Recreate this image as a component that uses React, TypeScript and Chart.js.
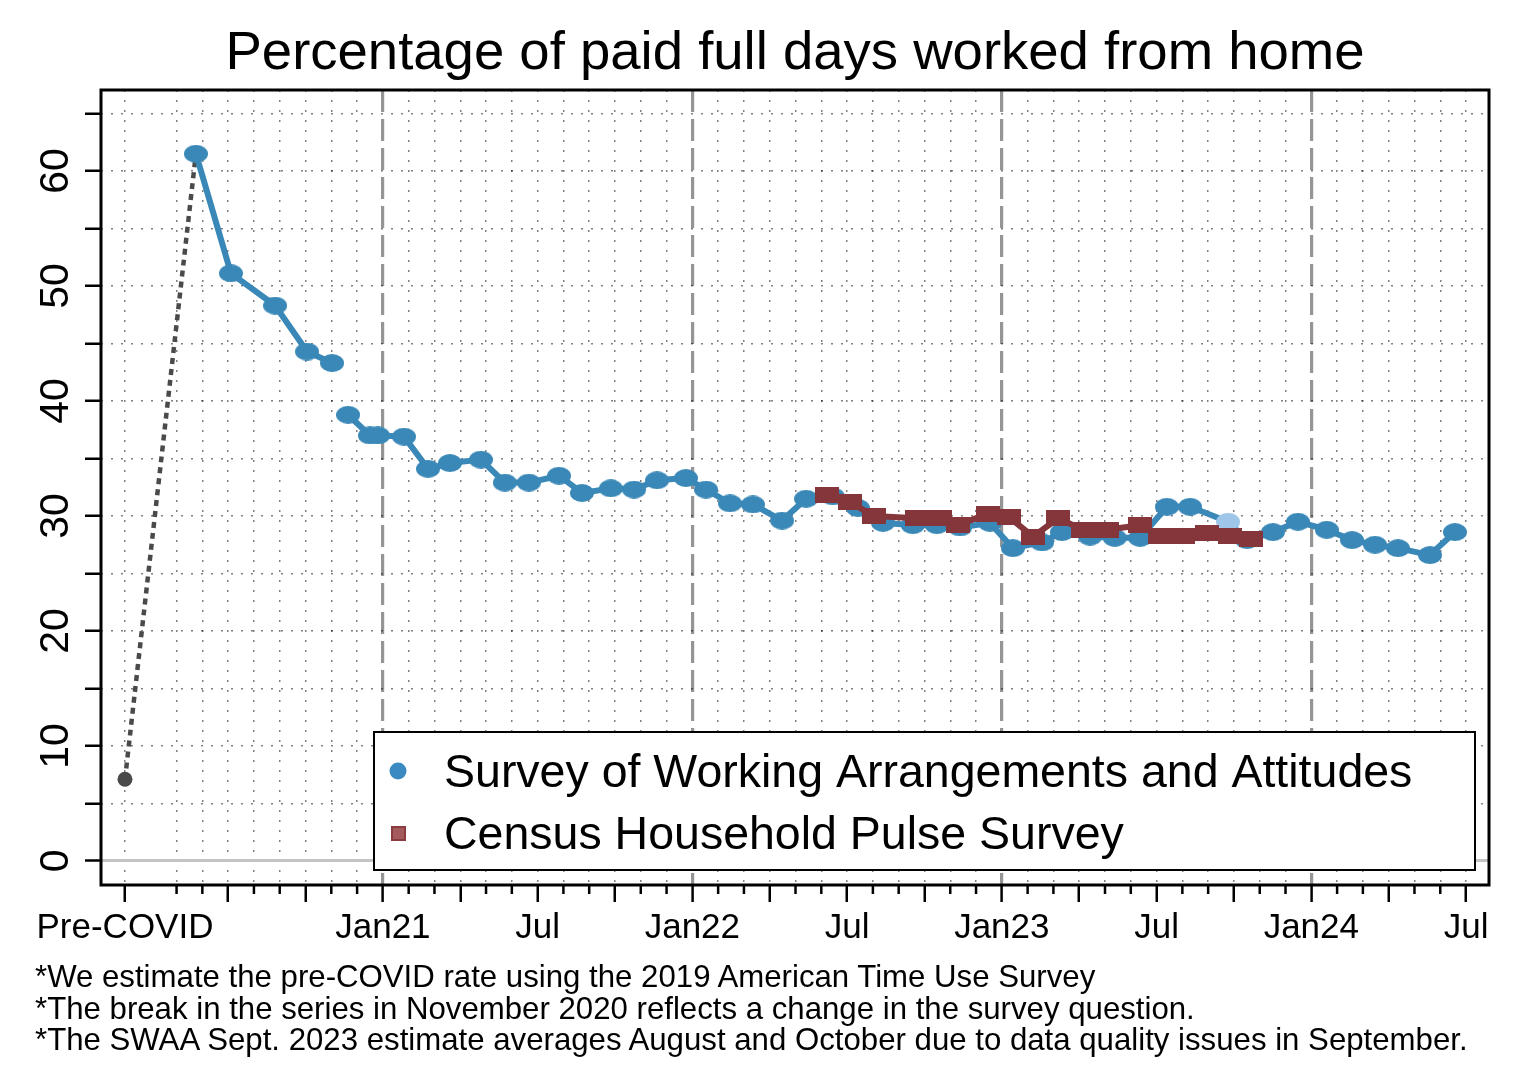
import React, { useEffect, useRef } from 'react';
import { Chart, registerables } from 'chart.js';

Chart.register(...registerables);

const FONT = "'Liberation Sans', Arial, Helvetica, sans-serif";

const titleText = 'Percentage of paid full days worked from home';
const footnotes = [
  '*We estimate the pre-COVID rate using the 2019 American Time Use Survey',
  '*The break in the series in November 2020 reflects a change in the survey question.',
  '*The SWAA Sept. 2023 estimate averages August and October due to data quality issues in September.',
];

// x values are months since March 2020 (Pre-COVID placed at 0)
const preMonths = [0, 2.75];
const preValues = [7.1, 61.5];

const swaaMonths = [
  2.75, 4.11, 5.82, 7.06, 8.03, 8.35, 8.65, 9.5, 9.81, 10.82, 11.75, 12.6, 13.8, 14.73, 15.66,
  16.83, 17.72, 18.84, 19.74, 20.63, 21.75, 22.53, 23.46, 24.35, 25.48, 26.41, 27.45, 28.42,
  29.39, 30.55, 31.48, 32.38, 33.54, 34.43, 35.56, 36.33, 37.42, 38.38, 39.36, 40.4, 41.3,
  42.77, 43.51, 44.51, 45.48, 46.6, 47.58, 48.47, 49.36, 50.6, 51.57,
];
const swaaValues = [
  61.5, 51.1, 48.3, 44.3, 43.3, null, 38.8, 37.0, 37.0, 36.9, 34.1, 34.6, 34.9, 32.9, 32.9,
  33.5, 32.0, 32.4, 32.3, 33.1, 33.3, 32.3, 31.1, 31.0, 29.6, 31.5, 31.7, 30.7,
  29.4, 29.2, 29.2, 29.0, 29.4, 27.2, 27.7, 28.6, 28.2, 28.1, 28.1, 30.8, 30.8,
  29.5, 27.9, 28.6, 29.5, 28.8, 27.9, 27.5, 27.2, 26.6, 28.6,
];
const swaaHighlightIndex = 41; // Sept. 2023 averaged estimate

const censusMonths = [
  27.22, 28.11, 29.04, 30.71, 31.6, 32.3, 33.46, 34.28, 35.21, 36.18, 37.15, 38.08, 39.36,
  40.13, 41.02, 41.95, 42.85, 43.66,
];
const censusValues = [
  31.8, 31.2, 30.0, 29.8, 29.8, 29.2, 30.2, 29.9, 28.2, 29.8, 28.8, 28.8, 29.2,
  28.3, 28.3, 28.5, 28.3, 28.0,
];

const xTickMonths = [0, 2, 3, 4, 5, 6, 7, 8, 9, 10, 11, 12, 13, 14, 15, 16, 17, 18, 19, 20, 21, 22, 23, 24, 25, 26, 27, 28, 29, 30, 31, 32, 33, 34, 35, 36, 37, 38, 39, 40, 41, 42, 43, 44, 45, 46, 47, 48, 49, 50, 51, 52];
const xLongTickMonths = [0, 4, 7, 10, 13, 16, 19, 22, 25, 28, 31, 34, 37, 40, 43, 46, 49, 52];
const xLabelMonths = [0, 10, 16, 22, 28, 34, 40, 46, 52];
const xLabelTexts = ['Pre-COVID', 'Jan21', 'Jul', 'Jan22', 'Jul', 'Jan23', 'Jul', 'Jan24', 'Jul'];
const yearStartMonths = [10, 22, 34, 46];
const yTickValues = [0, 5, 10, 15, 20, 25, 30, 35, 40, 45, 50, 55, 60, 65];
const yLabelValues = [0, 10, 20, 30, 40, 50, 60];
const seriesNames = ['Survey of Working Arrangements and Attitudes', 'Census Household Pulse Survey'];

const BLUE = '#3a88b8';
const LIGHT_BLUE = '#9ec6e8';
const RED = '#84363a';
const GRAY = '#4a4a4a';
const DOT = 'rgba(0,0,0,0.5)';

function makeEllipse(color: string, w: number, h: number) {
  const c = document.createElement('canvas');
  c.width = w;
  c.height = h;
  const g = c.getContext('2d')!;
  g.fillStyle = color;
  g.beginPath();
  g.ellipse(w / 2, h / 2, w / 2, h / 2, 0, 0, Math.PI * 2);
  g.fill();
  return c;
}
function makeRect(color: string, w: number, h: number) {
  const c = document.createElement('canvas');
  c.width = w;
  c.height = h;
  const g = c.getContext('2d')!;
  g.fillStyle = color;
  g.fillRect(0, 0, w, h);
  return c;
}

export default function App() {
  const ref = useRef<HTMLCanvasElement | null>(null);

  useEffect(() => {
    if (!ref.current) return;
    const blueImg = makeEllipse(BLUE, 24, 18);
    const lightImg = makeEllipse(LIGHT_BLUE, 24, 18);
    const redImg = makeRect(RED, 24, 16);

    const frame = {
      id: 'frame',
      afterDatasetsDraw(chart: any) {
        const ctx = chart.ctx;
        // legend
        ctx.save();
        ctx.fillStyle = '#fff';
        ctx.fillRect(374, 732, 1101, 138);
        ctx.strokeStyle = '#000';
        ctx.lineWidth = 2;
        ctx.strokeRect(374, 732, 1101, 138);
        ctx.fillStyle = '#3b8bc2';
        ctx.beginPath();
        ctx.arc(398, 771, 8.5, 0, Math.PI * 2);
        ctx.fill();
        ctx.fillStyle = '#a35b5d';
        ctx.fillRect(392, 827, 13, 13);
        ctx.strokeStyle = '#8a3c3f';
        ctx.lineWidth = 2;
        ctx.strokeRect(392, 827, 13, 13);
        ctx.fillStyle = '#000';
        ctx.font = `46.5px ${FONT}`;
        ctx.textBaseline = 'middle';
        ctx.textAlign = 'left';
        ctx.fillText(seriesNames[0], 444, 774);
        ctx.fillText(seriesNames[1], 444, 836);
        ctx.restore();
      },
      afterDraw(chart: any) {
        const ctx = chart.ctx;
        const a = chart.chartArea;
        const xs = chart.scales.x;
        ctx.save();
        ctx.strokeStyle = '#000';
        ctx.lineWidth = 2.5;
        for (const m of xTickMonths) {
          if (xLongTickMonths.includes(m)) continue;
          const px = xs.getPixelForValue(m);
          ctx.beginPath();
          ctx.moveTo(px, a.bottom);
          ctx.lineTo(px, a.bottom + 9);
          ctx.stroke();
        }
        ctx.lineWidth = 3;
        ctx.strokeRect(a.left, a.top, a.right - a.left, a.bottom - a.top);
        ctx.restore();
      },
    };

    const chart = new Chart(ref.current, {
      type: 'line',
      data: {
        datasets: [
          {
            label: seriesNames[1],
            data: censusMonths.map((m, i) => ({ x: m, y: censusValues[i] })),
            borderColor: RED,
            borderWidth: 6,
            pointStyle: redImg as any,
            pointRadius: 8,
            tension: 0,
            order: 1,
          },
          {
            label: seriesNames[0],
            data: swaaMonths.map((m, i) => ({ x: m, y: swaaValues[i] })),
            borderColor: BLUE,
            borderWidth: 6,
            borderJoinStyle: 'round',
            pointStyle: swaaMonths.map((_, i) => (i === swaaHighlightIndex ? lightImg : blueImg)) as any,
            pointRadius: 8,
            spanGaps: false,
            tension: 0,
            order: 2,
          },
          {
            label: 'Pre-COVID',
            data: preMonths.map((m, i) => ({ x: m, y: preValues[i] })),
            borderColor: GRAY,
            borderWidth: 4.5,
            borderDash: [6, 5],
            pointRadius: [7.5, 0],
            pointBackgroundColor: GRAY,
            pointBorderWidth: 0,
            tension: 0,
            order: 3,
          },
        ],
      },
      options: {
        responsive: false,
        animation: false,
        layout: { padding: { top: 0, left: 0, right: 25, bottom: 95 } },
        plugins: {
          legend: { display: false },
          tooltip: { enabled: false },
          title: {
            display: true,
            text: titleText,
            fullSize: false,
            color: '#000',
            font: { family: FONT, size: 54.5, weight: 'normal' },
            padding: { top: 21, bottom: 3.6 },
          },
        },
        scales: {
          x: {
            type: 'linear',
            min: -0.93,
            max: 52.89,
            afterBuildTicks: (s: any) => {
              s.ticks = xTickMonths.map((v) => ({ value: v }));
            },
            afterFit: (s: any) => {
              s.height = 100;
              s.paddingLeft = 0;
              s.paddingRight = 0;
            },
            ticks: {
              autoSkip: false,
              maxRotation: 0,
              minRotation: 0,
              padding: 5,
              color: '#000',
              font: { family: FONT, size: 35 },
              callback: (v: any) => {
                const k = xLabelMonths.indexOf(Number(v));
                return k >= 0 ? xLabelTexts[k] : '';
              },
            },
            border: {
              display: false,
              dash: (c: any) => (yearStartMonths.includes(c.tick?.value) ? [22, 7] : [2, 8]),
            },
            grid: {
              color: (c: any) => (yearStartMonths.includes(c.tick?.value) ? '#959595' : DOT),
              lineWidth: (c: any) => (yearStartMonths.includes(c.tick?.value) ? 3.2 : 1.5),
              tickLength: 17,
              tickWidth: 2.5,
              tickColor: (c: any) => (xLongTickMonths.includes(c.tick?.value) ? '#000' : 'rgba(0,0,0,0)'),
              tickBorderDash: [],
            },
          },
          y: {
            type: 'linear',
            min: -2.09,
            max: 67.04,
            afterBuildTicks: (s: any) => {
              s.ticks = yTickValues.map((v) => ({ value: v }));
            },
            afterFit: (s: any) => {
              s.width = 101;
              s.paddingTop = 0;
              s.paddingBottom = 0;
            },
            ticks: {
              minRotation: 90,
              maxRotation: 90,
              crossAlign: 'center',
              padding: 6,
              color: '#000',
              font: { family: FONT, size: 41 },
              callback: (v: any) => (yLabelValues.includes(Number(v)) ? String(v) : ''),
            },
            border: {
              display: false,
              dash: (c: any) => (c.tick?.value === 0 ? [] : [2, 8]),
            },
            grid: {
              color: (c: any) => (c.tick?.value === 0 ? '#c4c4c4' : DOT),
              lineWidth: (c: any) => (c.tick?.value === 0 ? 3 : 1.5),
              tickLength: 16,
              tickWidth: 2.5,
              tickColor: '#000',
              tickBorderDash: [],
            },
          },
        },
      },
      plugins: [frame],
    } as any);

    return () => chart.destroy();
  }, []);

  return (
    <div style={{ position: 'absolute', left: 0, top: 0, width: 1514, height: 1080, background: '#fff' }}>
      <canvas ref={ref} width={1514} height={1080} style={{ display: 'block', width: 1514, height: 1080 }} />
      <div
        style={{
          position: 'absolute',
          left: 35,
          top: 961,
          fontFamily: FONT,
          fontSize: 31.2,
          lineHeight: '31.5px',
          color: '#000',
          whiteSpace: 'nowrap',
        }}
      >
        {footnotes.map((f, i) => (
          <div key={i}>{f}</div>
        ))}
      </div>
    </div>
  );
}
